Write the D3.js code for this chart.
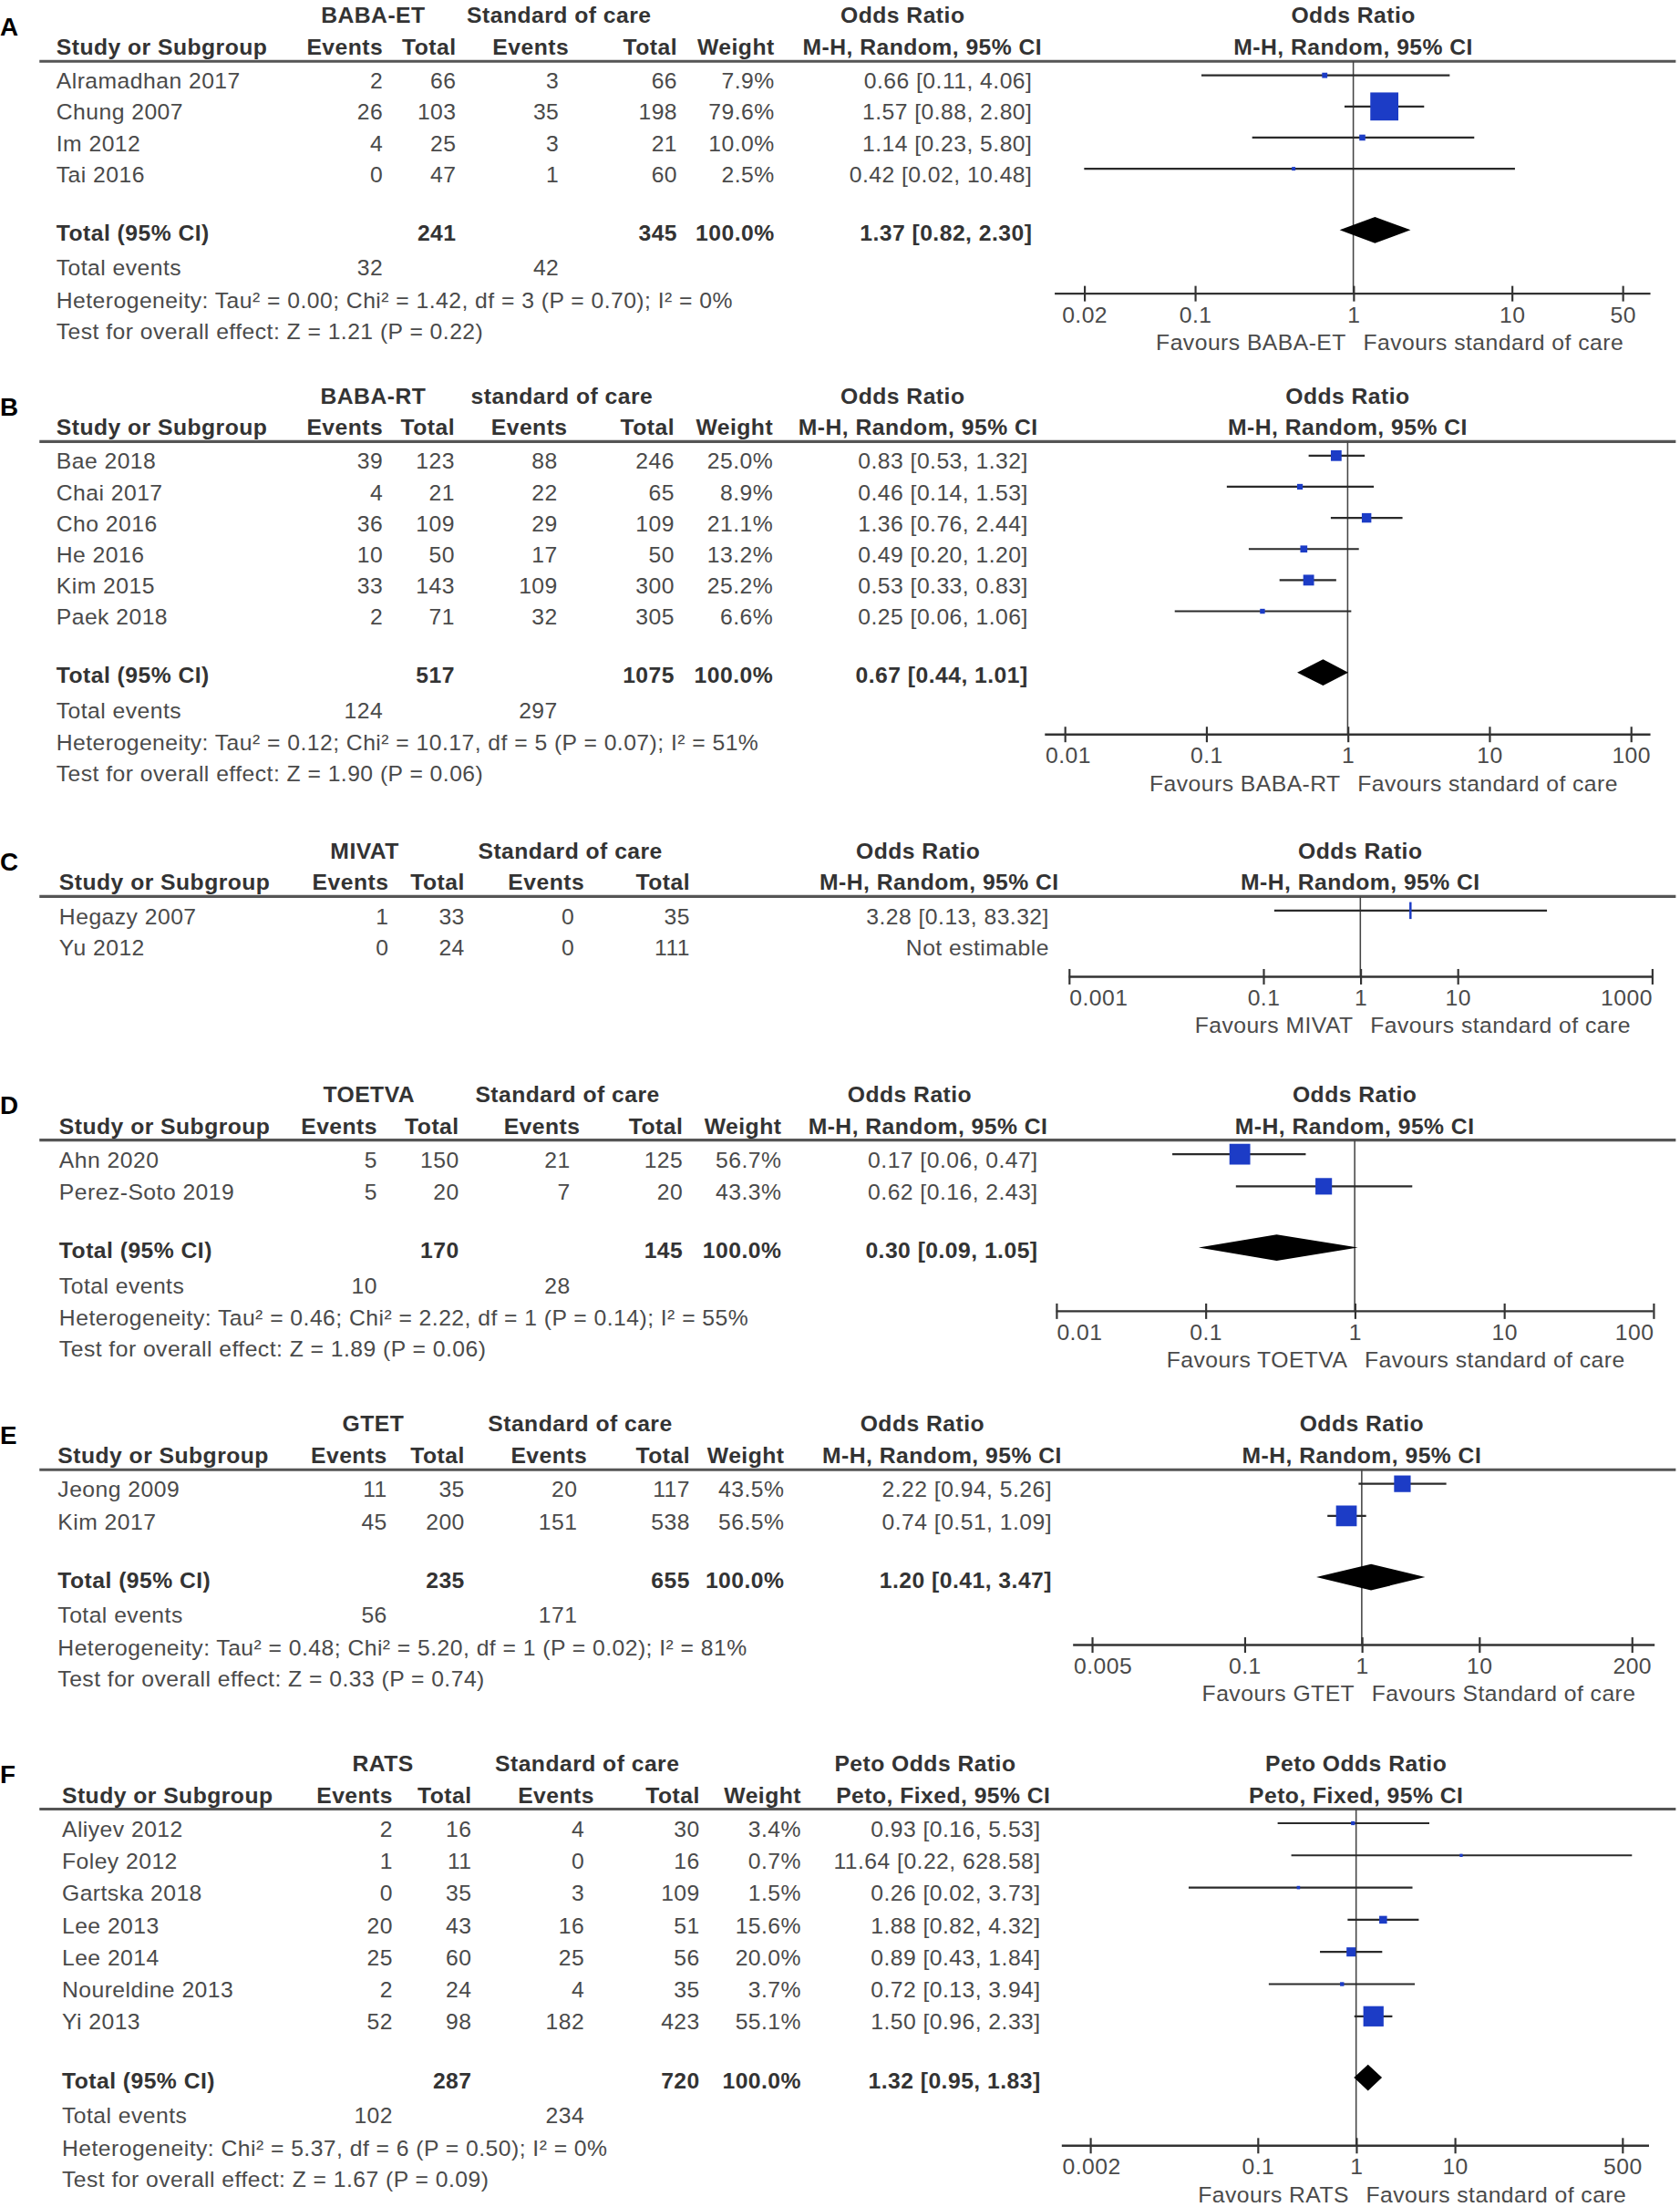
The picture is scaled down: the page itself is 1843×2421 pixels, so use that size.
<!DOCTYPE html>
<html><head><meta charset="utf-8">
<script src="https://cdn.jsdelivr.net/npm/d3@7"></script>
<style>
body{margin:0;background:#fff}
svg{display:block}
text{font-family:"Liberation Sans",Arial,sans-serif;letter-spacing:0.3px}
</style>
</head><body>
<svg id="chart"></svg>
<script>
// ---------- Panel A ----------
const studiesA = ["Alramadhan 2017","Chung 2007","Im 2012","Tai 2016"];
const expEventsA = [2,26,4,0];
const expTotalA = [66,103,25,47];
const ctlEventsA = [3,35,3,1];
const ctlTotalA = [66,198,21,60];
const weightA = [7.9,79.6,10.0,2.5];
const orA = [0.66,1.57,1.14,0.42];
const loA = [0.11,0.88,0.23,0.02];
const hiA = [4.06,2.80,5.80,10.48];
const pooledA = [1.37,0.82,2.30];
const sumTotalsA = [241,345];
const sumEventsA = [32,42];
const hetA = "Heterogeneity: Tau² = 0.00; Chi² = 1.42, df = 3 (P = 0.70); I² = 0%";
const testA = "Test for overall effect: Z = 1.21 (P = 0.22)";
const groupsA = ["BABA-ET","Standard of care","Odds Ratio"];
const methodA = "M-H, Random, 95% CI";
const ticksA = [0.02,0.1,1,10,50];
const favoursA = ["Favours BABA-ET","Favours standard of care"];

// ---------- Panel B ----------
const studiesB = ["Bae 2018","Chai 2017","Cho 2016","He 2016","Kim 2015","Paek 2018"];
const expEventsB = [39,4,36,10,33,2];
const expTotalB = [123,21,109,50,143,71];
const ctlEventsB = [88,22,29,17,109,32];
const ctlTotalB = [246,65,109,50,300,305];
const weightB = [25.0,8.9,21.1,13.2,25.2,6.6];
const orB = [0.83,0.46,1.36,0.49,0.53,0.25];
const loB = [0.53,0.14,0.76,0.20,0.33,0.06];
const hiB = [1.32,1.53,2.44,1.20,0.83,1.06];
const pooledB = [0.67,0.44,1.01];
const sumTotalsB = [517,1075];
const sumEventsB = [124,297];
const hetB = "Heterogeneity: Tau² = 0.12; Chi² = 10.17, df = 5 (P = 0.07); I² = 51%";
const testB = "Test for overall effect: Z = 1.90 (P = 0.06)";
const groupsB = ["BABA-RT","standard of care","Odds Ratio"];
const methodB = "M-H, Random, 95% CI";
const ticksB = [0.01,0.1,1,10,100];
const favoursB = ["Favours BABA-RT","Favours standard of care"];

// ---------- Panel C ----------
const studiesC = ["Hegazy 2007","Yu 2012"];
const expEventsC = [1,0];
const expTotalC = [33,24];
const ctlEventsC = [0,0];
const ctlTotalC = [35,111];
const orC = [3.28,null];
const loC = [0.13,null];
const hiC = [83.32,null];
const groupsC = ["MIVAT","Standard of care","Odds Ratio"];
const methodC = "M-H, Random, 95% CI";
const ticksC = [0.001,0.1,1,10,1000];
const favoursC = ["Favours MIVAT","Favours standard of care"];

// ---------- Panel D ----------
const studiesD = ["Ahn 2020","Perez-Soto 2019"];
const expEventsD = [5,5];
const expTotalD = [150,20];
const ctlEventsD = [21,7];
const ctlTotalD = [125,20];
const weightD = [56.7,43.3];
const orD = [0.17,0.62];
const loD = [0.06,0.16];
const hiD = [0.47,2.43];
const pooledD = [0.30,0.09,1.05];
const sumTotalsD = [170,145];
const sumEventsD = [10,28];
const hetD = "Heterogeneity: Tau² = 0.46; Chi² = 2.22, df = 1 (P = 0.14); I² = 55%";
const testD = "Test for overall effect: Z = 1.89 (P = 0.06)";
const groupsD = ["TOETVA","Standard of care","Odds Ratio"];
const methodD = "M-H, Random, 95% CI";
const ticksD = [0.01,0.1,1,10,100];
const favoursD = ["Favours TOETVA","Favours standard of care"];

// ---------- Panel E ----------
const studiesE = ["Jeong 2009","Kim 2017"];
const expEventsE = [11,45];
const expTotalE = [35,200];
const ctlEventsE = [20,151];
const ctlTotalE = [117,538];
const weightE = [43.5,56.5];
const orE = [2.22,0.74];
const loE = [0.94,0.51];
const hiE = [5.26,1.09];
const pooledE = [1.20,0.41,3.47];
const sumTotalsE = [235,655];
const sumEventsE = [56,171];
const hetE = "Heterogeneity: Tau² = 0.48; Chi² = 5.20, df = 1 (P = 0.02); I² = 81%";
const testE = "Test for overall effect: Z = 0.33 (P = 0.74)";
const groupsE = ["GTET","Standard of care","Odds Ratio"];
const methodE = "M-H, Random, 95% CI";
const ticksE = [0.005,0.1,1,10,200];
const favoursE = ["Favours GTET","Favours Standard of care"];

// ---------- Panel F ----------
const studiesF = ["Aliyev 2012","Foley 2012","Gartska 2018","Lee 2013","Lee 2014","Noureldine 2013","Yi 2013"];
const expEventsF = [2,1,0,20,25,2,52];
const expTotalF = [16,11,35,43,60,24,98];
const ctlEventsF = [4,0,3,16,25,4,182];
const ctlTotalF = [30,16,109,51,56,35,423];
const weightF = [3.4,0.7,1.5,15.6,20.0,3.7,55.1];
const orF = [0.93,11.64,0.26,1.88,0.89,0.72,1.50];
const loF = [0.16,0.22,0.02,0.82,0.43,0.13,0.96];
const hiF = [5.53,628.58,3.73,4.32,1.84,3.94,2.33];
const pooledF = [1.32,0.95,1.83];
const sumTotalsF = [287,720];
const sumEventsF = [102,234];
const hetF = "Heterogeneity: Chi² = 5.37, df = 6 (P = 0.50); I² = 0%";
const testF = "Test for overall effect: Z = 1.67 (P = 0.09)";
const groupsF = ["RATS","Standard of care","Peto Odds Ratio"];
const methodF = "Peto, Fixed, 95% CI";
const ticksF = [0.002,0.1,1,10,500];
const favoursF = ["Favours RATS","Favours standard of care"];

// ---------- layout (positions only) ----------
const W = 1193, H = 1567;
const layouts = {
  A:{gy:11,  step:22.1, axisY:208.5, x0:40, grp:[265,397,641], c:{ev1:272,tot1:324,ev2:397,tot2:481,wt:550,or:733}, one:961, dec:112.5, ax:[749,1172]},
  B:{gy:281, step:22.1, axisY:521.5, x0:40, grp:[265,399,641], c:{ev1:272,tot1:323,ev2:396,tot2:479,wt:549,or:730}, one:957, dec:100.5, ax:[742,1172]},
  C:{gy:604, step:22.5, axisY:693.5, x0:42, grp:[259,405,652], c:{ev1:276,tot1:330,ev2:408,tot2:490,wt:null,or:745}, one:966, dec:69, ax:[759,1173]},
  D:{gy:777, step:22.8, axisY:931,   x0:42, grp:[262,403,646], c:{ev1:268,tot1:326,ev2:405,tot2:485,wt:555,or:737}, one:962, dec:106, ax:[750,1174]},
  E:{gy:1011,step:22.8, axisY:1168,  x0:41, grp:[265,412,655], c:{ev1:275,tot1:330,ev2:410,tot2:490,wt:557,or:747}, one:967, dec:83.3, ax:[762,1175]},
  F:{gy:1252,step:22.85,axisY:1523.5,x0:44, grp:[272,417,657], c:{ev1:279,tot1:335,ev2:415,tot2:497,wt:569,or:739}, one:963, dec:70, ax:[754,1171]}
};

const panels = [
  {key:"A",studies:studiesA,e1:expEventsA,t1:expTotalA,e2:ctlEventsA,t2:ctlTotalA,w:weightA,or:orA,lo:loA,hi:hiA,pooled:pooledA,tot:sumTotalsA,ev:sumEventsA,het:hetA,test:testA,groups:groupsA,method:methodA,ticks:ticksA,fav:favoursA},
  {key:"B",studies:studiesB,e1:expEventsB,t1:expTotalB,e2:ctlEventsB,t2:ctlTotalB,w:weightB,or:orB,lo:loB,hi:hiB,pooled:pooledB,tot:sumTotalsB,ev:sumEventsB,het:hetB,test:testB,groups:groupsB,method:methodB,ticks:ticksB,fav:favoursB},
  {key:"C",studies:studiesC,e1:expEventsC,t1:expTotalC,e2:ctlEventsC,t2:ctlTotalC,w:null,or:orC,lo:loC,hi:hiC,pooled:null,groups:groupsC,method:methodC,ticks:ticksC,fav:favoursC},
  {key:"D",studies:studiesD,e1:expEventsD,t1:expTotalD,e2:ctlEventsD,t2:ctlTotalD,w:weightD,or:orD,lo:loD,hi:hiD,pooled:pooledD,tot:sumTotalsD,ev:sumEventsD,het:hetD,test:testD,groups:groupsD,method:methodD,ticks:ticksD,fav:favoursD},
  {key:"E",studies:studiesE,e1:expEventsE,t1:expTotalE,e2:ctlEventsE,t2:ctlTotalE,w:weightE,or:orE,lo:loE,hi:hiE,pooled:pooledE,tot:sumTotalsE,ev:sumEventsE,het:hetE,test:testE,groups:groupsE,method:methodE,ticks:ticksE,fav:favoursE},
  {key:"F",studies:studiesF,e1:expEventsF,t1:expTotalF,e2:ctlEventsF,t2:ctlTotalF,w:weightF,or:orF,lo:loF,hi:hiF,pooled:pooledF,tot:sumTotalsF,ev:sumEventsF,het:hetF,test:testF,groups:groupsF,method:methodF,ticks:ticksF,fav:favoursF}
];

const svg = d3.select("#chart")
  .attr("width",1843).attr("height",2421)
  .attr("viewBox",`0 0 ${W} ${H}`)
  .attr("preserveAspectRatio","none");
svg.append("rect").attr("width",W).attr("height",H).attr("fill","#fff");

const FS = 16;
const REG = "#4a4a4a", BOLD = "#333";
const BLUE = "#1c3cc6";
const f2 = d3.format(".2f");
const ciText = (o,l,h) => o==null ? "Not estimable" : `${f2(o)} [${f2(l)}, ${f2(h)}]`;
const boxSize = d3.scaleLinear().domain([0,100]).range([2,24.5]);

function drawPanel(P, L){
  const g = svg.append("g");
  const gy = L.gy;
  const txt = (x,yc,s,anchor,bold) => g.append("text")
      .attr("x",x).attr("y",yc+5.5)
      .attr("text-anchor",anchor||"start")
      .attr("font-size",FS)
      .attr("font-weight",bold?"bold":"normal")
      .attr("fill",bold?BOLD:REG)
      .text(s);

  // panel letter
  g.append("text").attr("x",0).attr("y",gy+7.5+6.5)
    .attr("font-size",18).attr("font-weight","bold").attr("fill","#000").text(P.key);

  // group headers
  txt(L.grp[0],gy,P.groups[0],"middle",true);
  txt(L.grp[1],gy,P.groups[1],"middle",true);
  txt(L.grp[2],gy,P.groups[2],"middle",true);
  txt(L.one,gy,P.groups[2],"middle",true);

  // column headers
  const hy = gy+22.5;
  txt(L.x0,hy,"Study or Subgroup","start",true);
  txt(L.c.ev1,hy,"Events","end",true);
  txt(L.c.tot1,hy,"Total","end",true);
  txt(L.c.ev2+7,hy,"Events","end",true);
  txt(L.c.tot2,hy,"Total","end",true);
  if(P.w) txt(L.c.wt,hy,"Weight","end",true);
  txt(L.c.or+7,hy,P.method,"end",true);
  txt(L.one,hy,P.method,"middle",true);

  const lineY = gy+32.5;
  g.append("line").attr("x1",28).attr("x2",1190).attr("y1",lineY).attr("y2",lineY)
    .attr("stroke","#555").attr("stroke-width",2);

  const x = d3.scaleLog().domain([0.1,10]).range([L.one-L.dec, L.one+L.dec]);

  // vertical line of no effect
  g.append("line").attr("x1",x(1)).attr("x2",x(1)).attr("y1",lineY).attr("y2",L.axisY)
    .attr("stroke","#444").attr("stroke-width",1);

  const rowC = i => gy+46.5+i*L.step;

  P.studies.forEach((s,i)=>{
    const yc = rowC(i);
    txt(L.x0,yc,s,"start",false);
    txt(L.c.ev1,yc,P.e1[i],"end",false);
    txt(L.c.tot1,yc,P.t1[i],"end",false);
    txt(L.c.ev2,yc,P.e2[i],"end",false);
    txt(L.c.tot2,yc,P.t2[i],"end",false);
    if(P.w) txt(L.c.wt,yc,d3.format(".1f")(P.w[i])+"%","end",false);
    txt(L.c.or,yc,ciText(P.or[i],P.lo[i],P.hi[i]),"end",false);
    if(P.or[i]!=null){
      const ly = yc-4;
      g.append("line").attr("x1",x(P.lo[i])).attr("x2",x(P.hi[i])).attr("y1",ly).attr("y2",ly)
        .attr("stroke","#2a2a2a").attr("stroke-width",1.4);
      if(P.w){
        const sz = boxSize(P.w[i]);
        g.append("rect").attr("x",x(P.or[i])-sz/2).attr("y",ly-sz/2)
          .attr("width",sz).attr("height",sz).attr("fill",BLUE);
      } else {
        g.append("rect").attr("x",x(P.or[i])-0.8).attr("y",ly-6)
          .attr("width",1.6).attr("height",12).attr("fill",BLUE);
      }
    }
  });

  if(P.pooled){
    const last = rowC(P.studies.length-1);
    const ty = last+41.5, ey = ty+25, hyy = ey+23, zy = hyy+22;
    txt(L.x0,ty,"Total (95% CI)","start",true);
    txt(L.c.tot1,ty,P.tot[0],"end",true);
    txt(L.c.tot2,ty,P.tot[1],"end",true);
    txt(L.c.wt,ty,"100.0%","end",true);
    txt(L.c.or,ty,ciText(P.pooled[0],P.pooled[1],P.pooled[2]),"end",true);
    txt(L.x0,ey,"Total events","start",false);
    txt(L.c.ev1,ey,P.ev[0],"end",false);
    txt(L.c.ev2,ey,P.ev[1],"end",false);
    txt(L.x0,hyy,P.het,"start",false);
    txt(L.x0,zy,P.test,"start",false);
    const dy = ty-2, hh = 9.3;
    const pts = [[x(P.pooled[1]),dy],[x(P.pooled[0]),dy-hh],[x(P.pooled[2]),dy],[x(P.pooled[0]),dy+hh]];
    g.append("path").attr("d",d3.line()(pts)+"Z").attr("fill","#000");
  }

  // axis
  g.append("line").attr("x1",L.ax[0]).attr("x2",L.ax[1]).attr("y1",L.axisY).attr("y2",L.axisY)
    .attr("stroke","#333").attr("stroke-width",1.6);
  const axG = g.append("g").attr("transform",`translate(0,${L.axisY})`)
    .call(d3.axisBottom(x).tickValues(P.ticks).tickFormat(d3.format("~g")).tickSize(5.5));
  axG.select(".domain").remove();
  axG.attr("font-size",FS).attr("font-family",null);
  axG.selectAll(".tick line").attr("y1",-5.5).attr("y2",5.5).attr("stroke","#333").attr("stroke-width",1.4);
  axG.selectAll(".tick text").attr("y",15+5.5).attr("dy",null).attr("fill",REG)
    .each(function(d){
      const t = d3.select(this);
      const len = this.getComputedTextLength();
      const tx = x(d);
      if(tx-len/2 < L.ax[0]) t.attr("text-anchor","start").attr("x",L.ax[0]-tx);
      else if(tx+len/2 > L.ax[1]) t.attr("text-anchor","end").attr("x",L.ax[1]-tx);
    });

  // favours
  const fy = L.axisY+34.5;
  txt(x(1)-5,fy,P.fav[0],"end",false);
  txt(x(1)+7,fy,P.fav[1],"start",false);
}

panels.forEach(p=>drawPanel(p,layouts[p.key]));
</script>
</body></html>
